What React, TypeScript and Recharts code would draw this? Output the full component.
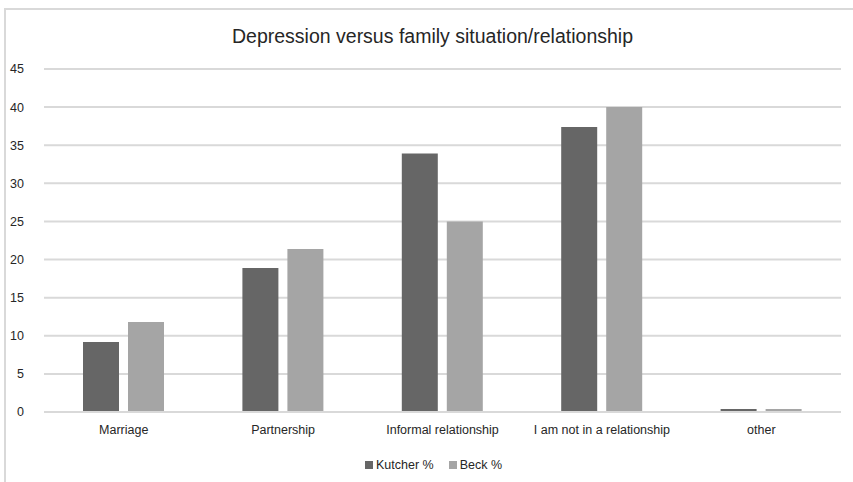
import { BarChart, Bar, XAxis, YAxis, CartesianGrid, Legend } from 'recharts'

const categories = [
  'Marriage',
  'Partnership',
  'Informal relationship',
  'I am not in a relationship',
  'other',
]
const kutcher = [9.2, 18.9, 33.9, 37.4, 0.4]
const beck = [11.8, 21.4, 25, 40, 0.4]
const yTicks = [0, 5, 10, 15, 20, 25, 30, 35, 40, 45]

const series = [
  { key: 'kutcher', name: 'Kutcher %', color: '#666666' },
  { key: 'beck', name: 'Beck %', color: '#a5a5a5' },
]

const data = categories.map((name, i) => ({
  name,
  kutcher: kutcher[i],
  beck: beck[i],
}))

const FONT = '"Liberation Sans", Arial, sans-serif'
const TEXT = '#262626'

// legend kept in series order (recharts sorts by name otherwise)
function SeriesLegend() {
  return (
    <div
      style={{
        display: 'flex',
        justifyContent: 'center',
        gap: 15,
        paddingLeft: 26,
        fontSize: 12.5,
        color: TEXT,
      }}
    >
      {series.map((s) => (
        <span key={s.key} style={{ display: 'flex', alignItems: 'center', gap: 3 }}>
          <span style={{ width: 8, height: 8, background: s.color, display: 'inline-block' }} />
          {s.name}
        </span>
      ))}
    </div>
  )
}

export default function App() {
  return (
    <div
      style={{
        position: 'absolute',
        left: 0,
        top: 0,
        width: 853,
        height: 482,
        background: '#fff',
        fontFamily: FONT,
        overflow: 'hidden',
      }}
    >
      {/* outer chart frame, only top and left edges fall inside the view */}
      <div
        style={{
          position: 'absolute',
          left: 4,
          top: 8,
          width: 900,
          height: 500,
          borderLeft: '2px solid #d9d9d9',
          borderTop: '2px solid #d9d9d9',
        }}
      />
      <div
        style={{
          position: 'absolute',
          left: 0,
          top: 25,
          width: 865,
          textAlign: 'center',
          fontSize: 19.5,
          color: TEXT,
        }}
      >
        Depression versus family situation/relationship
      </div>
      <BarChart
        width={853}
        height={482}
        data={data}
        margin={{ top: 69, right: 12, bottom: 10, left: 0 }}
        barGap={9}
        barSize={36}
        style={{ position: 'absolute', left: 0, top: 0 }}
      >
        <CartesianGrid vertical={false} stroke="#d9d9d9" strokeWidth={2} />
        <XAxis
          dataKey="name"
          axisLine={{ stroke: '#d9d9d9', strokeWidth: 2 }}
          tickLine={false}
          tick={{ fontSize: 12.5, fill: TEXT, fontFamily: FONT }}
          tickMargin={7}
          height={46}
        />
        <YAxis
          domain={[0, 45]}
          ticks={yTicks}
          width={44}
          axisLine={false}
          tickLine={false}
          tick={{ fontSize: 12.5, fill: TEXT, fontFamily: FONT }}
          tickMargin={14}
        />
        <Legend verticalAlign="bottom" content={() => <SeriesLegend />} />
        {series.map((s) => (
          <Bar key={s.key} dataKey={s.key} name={s.name} fill={s.color} isAnimationActive={false} />
        ))}
      </BarChart>
    </div>
  )
}
